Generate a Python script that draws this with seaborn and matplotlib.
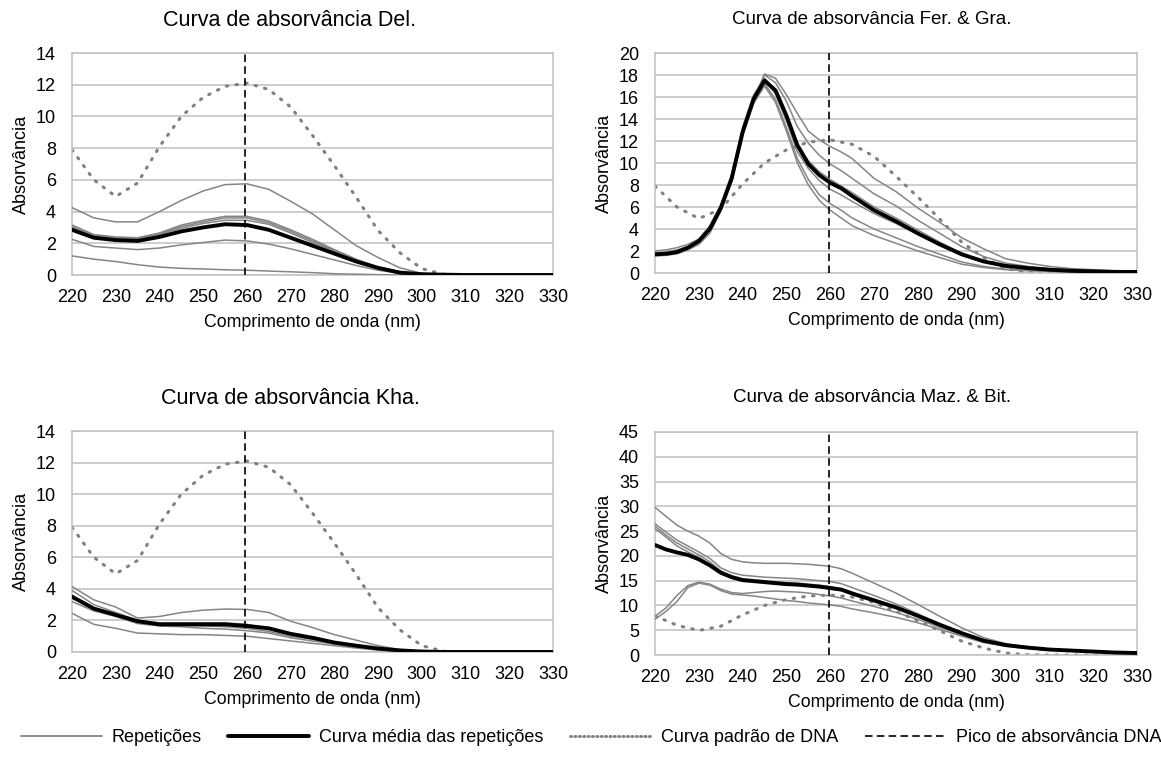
import numpy as np
import pandas as pd
import matplotlib
matplotlib.use("Agg")
import matplotlib.pyplot as plt
from matplotlib.lines import Line2D
from matplotlib.ticker import MultipleLocator, AutoMinorLocator
import seaborn as sns

# ---------------------------------------------------------------- data
# wavelength grids (nm)
wl_5 = list(range(220, 331, 5))
wl_fine = [220, 222.5, 225, 227.5, 230, 232.5, 235, 237.5, 240, 242.5, 245,
           247.5, 250, 252.5, 255, 257.5, 260, 262.5, 265,
           270, 275, 280, 285, 290, 295, 300, 305, 310, 315, 320, 325, 330]

# DNA standard absorbance curve (on wl_5)
dna_std = [7.9, 6.0, 4.95, 5.8, 8.1, 10.0, 11.2, 11.9, 12.1, 11.7, 10.6, 8.8,
           6.9, 4.9, 2.8, 1.4, 0.4, 0.05, 0, 0, 0, 0, 0]

dna_peak_nm = 259.6

# Del. (on wl_5)
del_reps = [
    [4.25, 3.6, 3.35, 3.35, 4.0, 4.7, 5.3, 5.7, 5.75, 5.4, 4.65, 3.85, 2.85, 1.85, 1.1, 0.45, 0.1, 0.02, 0, 0, 0, 0, 0],
    [3.15, 2.55, 2.4, 2.35, 2.65, 3.15, 3.45, 3.7, 3.7, 3.4, 2.85, 2.25, 1.6, 1.0, 0.5, 0.2, 0.06, 0.02, 0, 0, 0, 0, 0],
    [3.05, 2.5, 2.35, 2.3, 2.6, 3.05, 3.35, 3.6, 3.6, 3.3, 2.75, 2.15, 1.55, 0.95, 0.5, 0.18, 0.05, 0.02, 0, 0, 0, 0, 0],
    [2.95, 2.45, 2.3, 2.25, 2.55, 2.95, 3.25, 3.45, 3.45, 3.2, 2.65, 2.05, 1.5, 0.9, 0.45, 0.15, 0.05, 0.01, 0, 0, 0, 0, 0],
    [2.25, 1.8, 1.7, 1.6, 1.7, 1.9, 2.05, 2.2, 2.15, 1.95, 1.65, 1.3, 0.95, 0.6, 0.3, 0.1, 0.03, 0, 0, 0, 0, 0, 0],
    [1.2, 1.0, 0.85, 0.65, 0.5, 0.42, 0.38, 0.33, 0.3, 0.25, 0.2, 0.15, 0.08, 0.05, 0.02, 0, 0, 0, 0, 0, 0, 0, 0],
]
del_mean = [2.85, 2.35, 2.2, 2.15, 2.4, 2.75, 3.0, 3.2, 3.15, 2.85, 2.35, 1.85,
            1.35, 0.85, 0.45, 0.15, 0.05, 0.02, 0, 0, 0, 0, 0]

# Fer. & Gra. (on wl_fine)
fg_reps = [
    [1.55, 1.6, 1.75, 2.1, 2.6, 3.6, 5.6, 8.3, 12.5, 15.7, 18.1, 17.7, 16.2, 14.5, 12.9, 12.1, 11.5, 11.0, 10.4,
     8.6, 7.4, 5.9, 4.6, 3.2, 2.2, 1.3, 0.9, 0.6, 0.4, 0.3, 0.2, 0.15],
    [1.8, 1.9, 2.1, 2.4, 2.9, 4.1, 6.0, 8.8, 13.0, 16.0, 18.0, 17.3, 15.6, 13.3, 11.8, 10.7, 9.9, 9.3, 8.6,
     7.2, 6.1, 4.8, 3.6, 2.4, 1.5, 0.9, 0.6, 0.4, 0.3, 0.2, 0.15, 0.1],
    [2.0, 2.1, 2.3, 2.6, 3.1, 4.3, 6.2, 9.0, 13.3, 16.2, 17.7, 16.6, 14.3, 11.8, 10.2, 9.2, 8.5, 7.9, 7.3,
     6.0, 5.0, 3.9, 2.8, 1.8, 1.1, 0.7, 0.45, 0.3, 0.2, 0.15, 0.1, 0.1],
    [1.7, 1.75, 1.9, 2.3, 2.9, 4.0, 5.9, 8.6, 12.8, 15.8, 17.5, 16.3, 13.8, 11.0, 9.5, 8.4, 7.6, 7.1, 6.5,
     5.4, 4.5, 3.5, 2.5, 1.6, 1.0, 0.6, 0.4, 0.25, 0.2, 0.15, 0.1, 0.1],
    [1.6, 1.65, 1.8, 2.2, 2.8, 3.9, 5.8, 8.5, 12.7, 15.6, 17.2, 15.8, 13.2, 10.4, 8.5, 7.1, 6.3, 5.7, 5.0,
     4.0, 3.2, 2.4, 1.7, 1.0, 0.6, 0.35, 0.25, 0.15, 0.1, 0.1, 0.05, 0.05],
    [1.6, 1.65, 1.8, 2.2, 2.8, 3.9, 5.8, 8.5, 12.6, 15.4, 17.0, 15.5, 12.9, 10.0, 8.0, 6.6, 5.7, 5.0, 4.3,
     3.4, 2.7, 2.0, 1.4, 0.8, 0.5, 0.3, 0.2, 0.15, 0.1, 0.05, 0.05, 0.05],
]
fg_mean = [1.7, 1.75, 1.9, 2.3, 2.9, 4.0, 5.9, 8.6, 12.8, 15.8, 17.5, 16.6, 14.3, 11.6, 9.9, 8.9, 8.2, 7.7, 7.0,
           5.7, 4.7, 3.6, 2.6, 1.7, 1.05, 0.65, 0.45, 0.3, 0.2, 0.15, 0.1, 0.1]

# Kha. (on wl_5)
kha_reps = [
    [4.15, 3.3, 2.85, 2.15, 2.25, 2.5, 2.65, 2.72, 2.7, 2.5, 1.95, 1.55, 1.1, 0.75, 0.4, 0.15, 0.04, 0, 0, 0, 0, 0, 0],
    [3.9, 3.0, 2.5, 2.0, 1.85, 1.85, 1.85, 1.85, 1.75, 1.5, 1.15, 0.9, 0.6, 0.4, 0.22, 0.1, 0.03, 0, 0, 0, 0, 0, 0],
    [3.6, 2.8, 2.4, 1.9, 1.75, 1.7, 1.65, 1.6, 1.5, 1.3, 1.0, 0.8, 0.55, 0.35, 0.2, 0.08, 0.02, 0, 0, 0, 0, 0, 0],
    [3.2, 2.6, 2.25, 1.8, 1.65, 1.6, 1.5, 1.45, 1.35, 1.2, 0.9, 0.7, 0.5, 0.3, 0.15, 0.05, 0.01, 0, 0, 0, 0, 0, 0],
    [2.45, 1.75, 1.5, 1.2, 1.15, 1.1, 1.1, 1.05, 1.0, 0.85, 0.7, 0.55, 0.4, 0.25, 0.12, 0.05, 0, 0, 0, 0, 0, 0, 0],
]
kha_mean = [3.5, 2.75, 2.35, 1.95, 1.75, 1.75, 1.75, 1.75, 1.65, 1.5, 1.15, 0.9,
            0.6, 0.4, 0.22, 0.1, 0.03, 0, 0, 0, 0, 0, 0]

# Maz. & Bit. (on wl_fine)
mb_reps = [
    [29.8, 28.0, 26.2, 25.0, 24.0, 22.6, 20.5, 19.3, 18.8, 18.6, 18.5, 18.5, 18.5, 18.4, 18.3, 18.1, 17.9, 17.4, 16.5,
     14.5, 12.5, 10.2, 7.8, 5.5, 3.5, 2.3, 1.6, 1.2, 0.9, 0.7, 0.5, 0.4],
    [26.5, 24.8, 23.2, 22.0, 20.8, 19.5, 17.6, 16.6, 16.1, 15.9, 15.7, 15.6, 15.5, 15.4, 15.2, 15.0, 14.8, 14.4, 13.6,
     12.0, 10.3, 8.3, 6.3, 4.6, 3.0, 2.1, 1.5, 1.1, 0.9, 0.7, 0.5, 0.4],
    [26.0, 24.2, 22.6, 21.4, 20.2, 18.8, 17.0, 16.0, 15.4, 15.2, 15.0, 14.8, 14.6, 14.5, 14.3, 14.1, 13.8, 13.4, 12.7,
     11.3, 9.8, 8.0, 6.1, 4.4, 2.9, 2.0, 1.5, 1.1, 0.9, 0.7, 0.5, 0.4],
    [25.5, 23.8, 22.0, 20.8, 19.7, 18.3, 16.5, 15.5, 15.0, 14.8, 14.6, 14.4, 14.2, 14.1, 13.9, 13.7, 13.4, 13.0, 12.3,
     10.9, 9.5, 7.8, 6.0, 4.3, 2.8, 1.9, 1.4, 1.0, 0.8, 0.6, 0.5, 0.4],
    [7.8, 9.5, 12.0, 14.0, 14.7, 14.3, 13.3, 12.6, 12.4, 12.6, 12.8, 12.9, 12.8, 12.7, 12.5, 12.2, 11.9, 11.5, 10.9,
     9.8, 8.6, 7.2, 5.6, 4.1, 2.7, 1.9, 1.4, 1.0, 0.8, 0.6, 0.5, 0.4],
    [7.2, 8.8, 10.8, 13.6, 14.5, 14.1, 13.0, 12.3, 12.1, 11.9, 11.6, 11.3, 11.0, 10.8, 10.5, 10.3, 10.1, 9.8, 9.3,
     8.5, 7.6, 6.5, 5.2, 3.8, 2.5, 1.8, 1.3, 1.0, 0.8, 0.6, 0.5, 0.4],
]
mb_mean = [22.2, 21.3, 20.7, 20.2, 19.3, 18.1, 16.6, 15.7, 15.1, 14.9, 14.7, 14.5, 14.3, 14.2, 14.0, 13.8, 13.5, 13.2, 12.4,
           11.0, 9.6, 7.9, 6.1, 4.4, 2.9, 2.0, 1.5, 1.1, 0.9, 0.7, 0.5, 0.4]

panel_titles = ["Curva de absorvância Del.", "Curva de absorvância Fer. & Gra.",
                "Curva de absorvância Kha.", "Curva de absorvância Maz. & Bit."]
legend_labels = ["Repetições", "Curva média das repetições",
                 "Curva padrão de DNA", "Pico de absorvância DNA"]
x_label = "Comprimento de onda (nm)"
y_label = "Absorvância"

# ---------------------------------------------------------------- style
sns.set_style("white")
plt.rcParams["font.family"] = ["Liberation Sans", "DejaVu Sans"]
plt.rcParams["text.color"] = "black"
plt.rcParams["axes.labelcolor"] = "black"
plt.rcParams["xtick.labelcolor"] = "black"
plt.rcParams["ytick.labelcolor"] = "black"

REP_COLOR = "#858585"
STD_COLOR = "#808080"
GRID_COLOR = "#c0c0c0"
DOT_STYLE = (0, (0.5, 2.7))
DASH_STYLE = (0, (4.5, 2.6))

W, H = 1161, 764
fig = plt.figure(figsize=(W / 100, H / 100), dpi=100)


def box(x0, x1, ytop, ybot):
    return [x0 / W, 1 - ybot / H, (x1 - x0) / W, (ybot - ytop) / H]


panels = [
    dict(rect=box(72, 553, 53, 275), wl=wl_5, reps=del_reps, mean=del_mean,
         ymax=14, ystep=2, title_xy=(290, 20), title_size=15.5),
    dict(rect=box(655, 1137, 53, 273), wl=wl_fine, reps=fg_reps, mean=fg_mean,
         ymax=20, ystep=2, title_xy=(872, 19), title_size=13.5),
    dict(rect=box(72, 553, 431, 652), wl=wl_5, reps=kha_reps, mean=kha_mean,
         ymax=14, ystep=2, title_xy=(290, 398), title_size=15.5),
    dict(rect=box(655, 1137, 432, 655), wl=wl_fine, reps=mb_reps, mean=mb_mean,
         ymax=45, ystep=5, title_xy=(872, 397), title_size=13.5),
]

for p, title in zip(panels, panel_titles):
    ax = fig.add_axes(p["rect"])

    # DNA standard curve (dotted)
    sns.lineplot(x=wl_5, y=dna_std, ax=ax, color=STD_COLOR, lw=2.2,
                 linestyle=DOT_STYLE, dash_capstyle="round", zorder=2)
    # individual repetitions
    for rep in p["reps"]:
        sns.lineplot(x=p["wl"], y=rep, ax=ax, color=REP_COLOR, lw=1.1, zorder=3)
    # mean of repetitions
    sns.lineplot(x=p["wl"], y=p["mean"], ax=ax, color="black", lw=2.8, zorder=4)
    # DNA absorbance peak
    ax.axvline(dna_peak_nm, color="black", lw=1.2, linestyle=DASH_STYLE, zorder=5)

    ax.set_xlim(220, 330)
    ax.set_ylim(0, p["ymax"])
    ax.xaxis.set_major_locator(MultipleLocator(10))
    ax.xaxis.set_minor_locator(MultipleLocator(5))
    ax.yaxis.set_major_locator(MultipleLocator(p["ystep"]))
    ax.yaxis.set_minor_locator(AutoMinorLocator(5))

    ax.grid(axis="y", which="major", color=GRID_COLOR, lw=1.1)
    ax.set_axisbelow(True)
    for s in ax.spines.values():
        s.set_color(GRID_COLOR)
        s.set_linewidth(1.1)

    ax.tick_params(axis="x", which="both", direction="in", length=3.5, width=1,
                   color=GRID_COLOR, labelsize=13, pad=10)
    ax.tick_params(axis="y", which="major", direction="out", length=3.5, width=1,
                   color=GRID_COLOR, labelsize=13, pad=8)
    ax.tick_params(axis="y", which="minor", direction="in", length=3, width=1,
                   color=GRID_COLOR)
    ax.tick_params(axis="x", which="minor", labelbottom=False)

    ax.set_xlabel(x_label, fontsize=12.8, labelpad=6)
    ax.set_ylabel(y_label, fontsize=13, labelpad=4)

    tx, ty = p["title_xy"]
    fig.text(tx / W, 1 - ty / H, title, ha="center", va="center",
             fontsize=p["title_size"])

handles = [
    Line2D([], [], color=REP_COLOR, lw=1.3),
    Line2D([], [], color="black", lw=2.8),
    Line2D([], [], color=STD_COLOR, lw=2.1, linestyle=(0, (0.4, 1.1)), dash_capstyle="round"),
    Line2D([], [], color="black", lw=1.2, linestyle=DASH_STYLE),
]
fig.legend(handles, legend_labels, loc="center", bbox_to_anchor=(591 / W, 1 - 738 / H),
           ncol=4, frameon=False, fontsize=13, handlelength=4.5,
           handletextpad=0.55, columnspacing=1.45)

fig.savefig("out.png", dpi=100, facecolor="white")
